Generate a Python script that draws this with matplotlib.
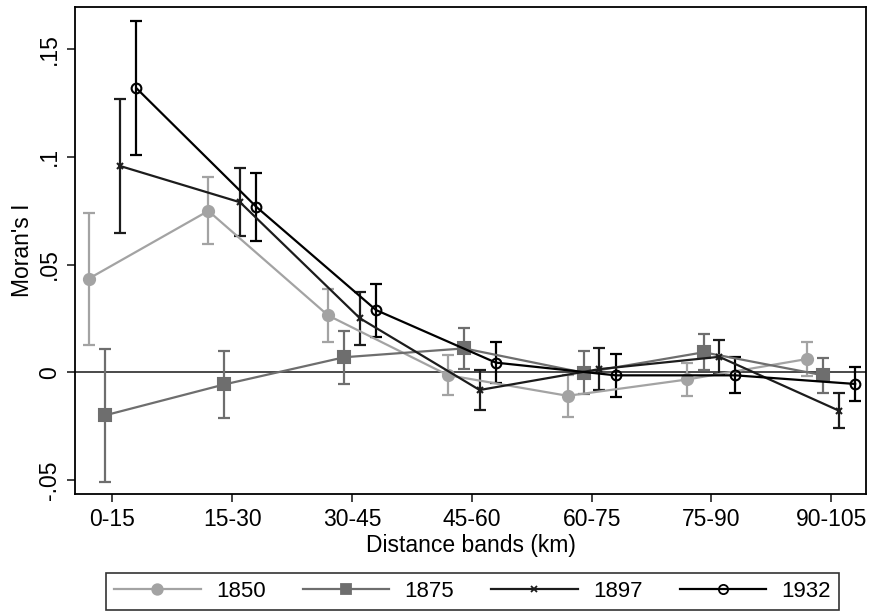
import numpy as np
import matplotlib
matplotlib.use("Agg")
import matplotlib.pyplot as plt

plt.rcParams["font.family"] = ["Liberation Sans", "DejaVu Sans"]

bands = ["0-15", "15-30", "30-45", "45-60", "60-75", "75-90", "90-105"]
years = ["1850", "1875", "1897", "1932"]

moran_1850 = [0.0434, 0.0749, 0.0264, -0.0013, -0.0109, -0.0033, 0.0062]
ci_1850 = [0.0305, 0.0155, 0.0122, 0.0094, 0.0097, 0.0078, 0.0078]

moran_1875 = [-0.0200, -0.0056, 0.0070, 0.0111, -0.0002, 0.0093, -0.0014]
ci_1875 = [0.0307, 0.0157, 0.0122, 0.0094, 0.0099, 0.0083, 0.0080]

moran_1897 = [0.0957, 0.0789, 0.0251, -0.0082, 0.0015, 0.0072, -0.0178]
ci_1897 = [0.0310, 0.0158, 0.0122, 0.0095, 0.0099, 0.0079, 0.0080]

moran_1932 = [0.1318, 0.0768, 0.0289, 0.0045, -0.0014, -0.0014, -0.0054]
ci_1932 = [0.0310, 0.0158, 0.0123, 0.0096, 0.0099, 0.0084, 0.0079]

series = [
    (moran_1850, ci_1850, -0.2, "#a3a3a3", "o", 8, "#a3a3a3"),
    (moran_1875, ci_1875, -0.065, "#6e6e6e", "s", 8, "#6e6e6e"),
    (moran_1897, ci_1897, 0.065, "#1c1c1c", "x", 5, "#1c1c1c"),
    (moran_1932, ci_1932, 0.2, "#000000", "o", 7, "none"),
]

fig = plt.figure(figsize=(8.69, 6.13), dpi=100)
ax = fig.add_axes([0.0863, 0.1936, 0.9102, 0.795])

ax.axhline(0, color="#3a3a3a", lw=1.3, zorder=1)

x = np.arange(1, len(bands) + 1)
handles = []
for (vals, ci, off, col, mk, ms, fc), yr in zip(series, years):
    ax.errorbar(x + off, vals, yerr=ci, fmt="none", ecolor=col,
                elinewidth=1.6, capsize=4.5, capthick=1.6, zorder=2)
    h, = ax.plot(x + off, vals, color=col, lw=1.6, marker=mk, ms=ms,
                 mfc=fc, mec=col, mew=1.5, zorder=3, label=yr)
    handles.append(h)

ax.set_xlim(0.687, 7.29)
ax.set_ylim(-0.0566, 0.1695)
ax.set_xticks(x)
ax.set_xticklabels(bands)
ax.set_yticks([-0.05, 0, 0.05, 0.1, 0.15])
ax.set_yticklabels(["-.05", "0", ".05", ".1", ".15"], rotation=90, va="center")
ax.tick_params(labelsize=16.5, length=6, width=1.2, color="#222222", pad=4)
for s in ax.spines.values():
    s.set_linewidth(1.3)
ax.set_xlabel("Distance bands (km)", fontsize=16.5, labelpad=2)
ax.set_ylabel("Moran's I", fontsize=16.5, labelpad=3)

leg_handles = [plt.Line2D([], [], color=h.get_color(), lw=1.6,
                          marker=h.get_marker(),
                          ms=h.get_markersize() * 0.95,
                          mfc=h.get_markerfacecolor(),
                          mec=h.get_markeredgecolor(), mew=1.3)
               for h in handles]
leg = fig.legend(handles=leg_handles, labels=years, ncol=4, loc="center",
                 bbox_to_anchor=(0.5437, 0.0354), fontsize=16,
                 frameon=True, fancybox=False, edgecolor="black",
                 handlelength=3.9, handletextpad=0.68, columnspacing=1.67,
                 borderpad=0.35, borderaxespad=0)
leg.get_frame().set_linewidth(1.2)

fig.savefig("out.png", dpi=100)
